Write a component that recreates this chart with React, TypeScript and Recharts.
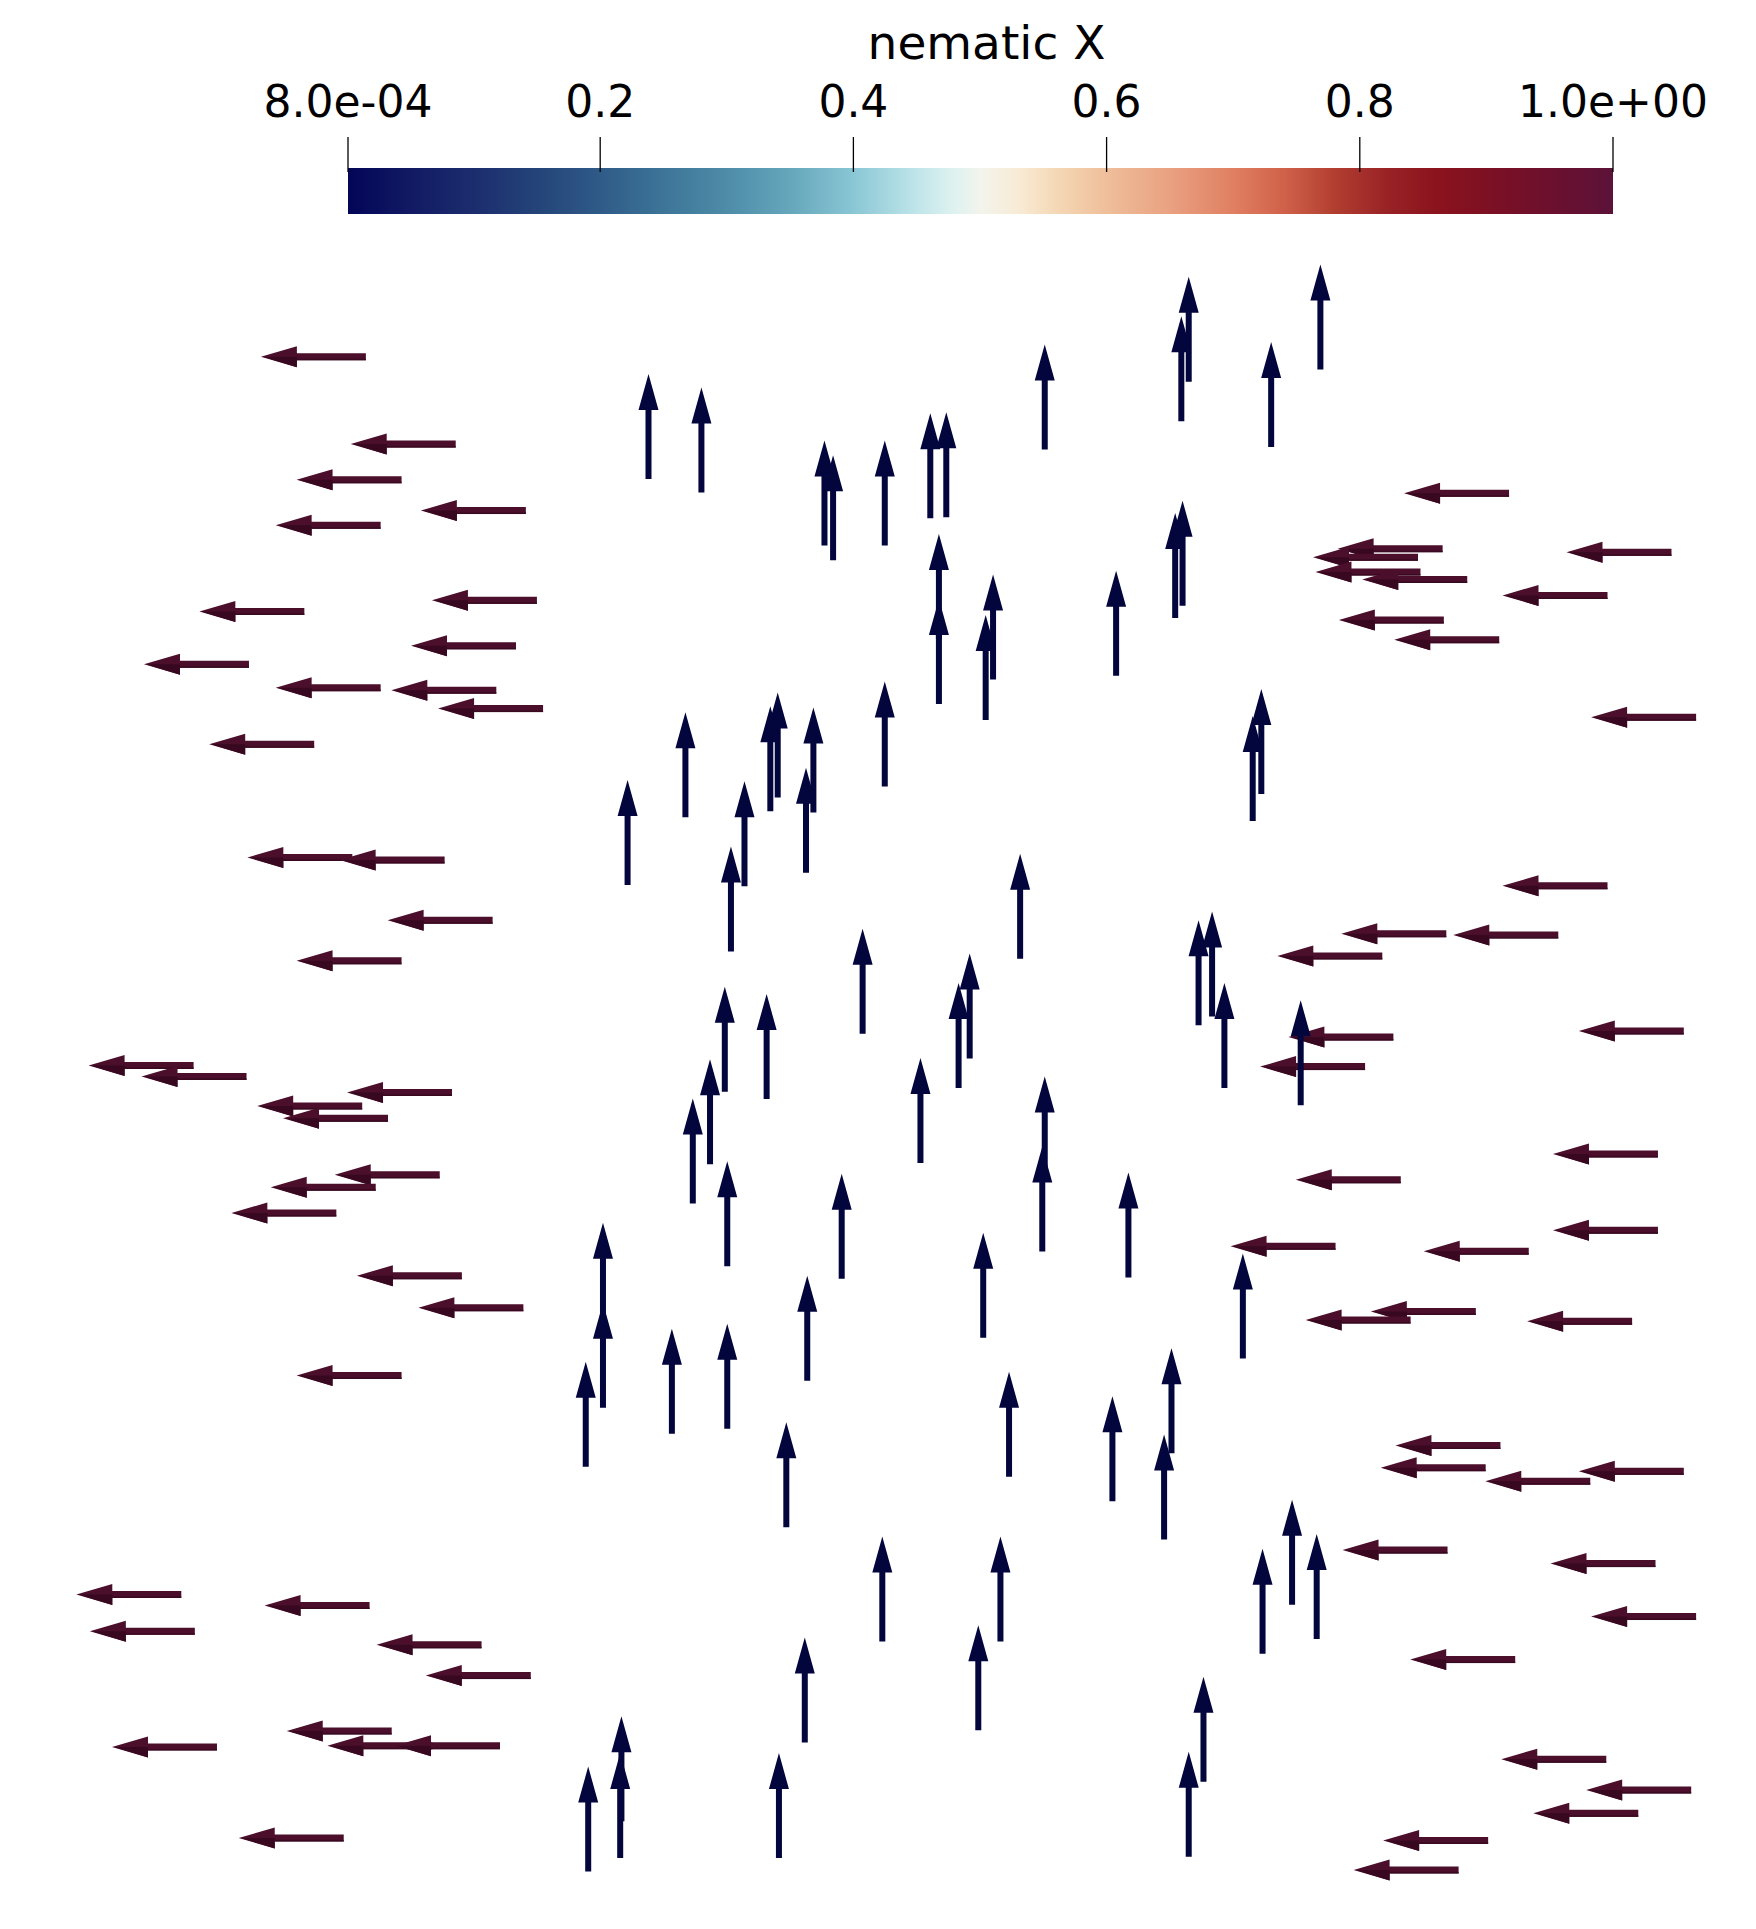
import React from 'react';
import { ScatterChart, Scatter, XAxis, YAxis, ComposedChart, ReferenceArea, Label } from 'recharts';

const W = 1756;
const H = 1929;

// arrow tips in a 1427 x 1568 view of the domain
const leftArrows: [number, number][] = [
  [212, 290], [285, 361], [241, 390], [342, 415], [224, 427], [162, 497], [351, 488], [334, 525],
  [117, 540], [224, 559], [318, 561], [356, 576], [170, 605], [201, 697], [276, 699], [315, 748],
  [241, 781], [72, 866], [115, 875], [282, 888], [209, 899], [230, 909], [272, 955], [220, 965],
  [188, 986], [290, 1037], [340, 1063], [241, 1118], [62, 1296], [215, 1305], [73, 1326], [306, 1337],
  [346, 1362], [233, 1407], [266, 1419], [321, 1419], [91, 1420], [194, 1494],
  [1141, 401], [1087, 446], [1067, 453], [1273, 449], [1069, 465], [1107, 471], [1221, 484], [1088, 504],
  [1133, 520], [1293, 583], [1221, 720], [1090, 759], [1181, 760], [1038, 777], [1283, 838], [1047, 843],
  [1024, 867], [1262, 938], [1053, 959], [1262, 1000], [1000, 1013], [1157, 1017], [1114, 1066], [1061, 1073],
  [1241, 1074], [1134, 1175], [1122, 1193], [1207, 1204], [1283, 1196], [1091, 1260], [1260, 1271], [1293, 1314],
  [1146, 1349], [1220, 1430], [1289, 1455], [1246, 1474], [1124, 1496], [1100, 1520],
];

const upArrows: [number, number][] = [
  [527, 304], [570, 315], [670, 358], [677, 370], [719, 358], [756, 336], [769, 335], [849, 280],
  [966, 225], [960, 257], [1033, 278], [1073, 215], [961, 407], [955, 417], [763, 434], [763, 487],
  [807, 467], [801, 500], [907, 464], [719, 554], [1025, 560], [1018, 582], [510, 634], [557, 579],
  [632, 563], [626, 574], [661, 575], [605, 635], [655, 624], [594, 688], [701, 755], [589, 802],
  [623, 808], [577, 861], [829, 694], [974, 748], [985, 741], [788, 775], [779, 799], [995, 799],
  [1057, 813], [748, 860], [849, 875], [563, 893], [591, 944], [684, 954], [490, 994], [490, 1059],
  [476, 1107], [546, 1080], [591, 1076], [656, 1037], [639, 1156], [847, 932], [917, 953], [799, 1002],
  [1010, 1019], [820, 1115], [904, 1135], [952, 1096], [946, 1166], [654, 1331], [505, 1395], [504, 1425],
  [478, 1436], [633, 1425], [717, 1249], [813, 1249], [795, 1321], [1050, 1219], [1026, 1259], [1070, 1247],
  [978, 1363], [966, 1424],
];

const cbTicks = [0.0008, 0.2, 0.4, 0.6, 0.8, 1.0];
const cbTickLabels = ['8.0e-04', '0.2', '0.4', '0.6', '0.8', '1.0e+00'];
const cbStops: [number, string][] = [
  [0, '#030557'], [0.05, '#111a63'], [0.1, '#1c2d6e'], [0.15, '#244479'], [0.2, '#2f5b88'],
  [0.25, '#3d7598'], [0.3, '#4e8ca8'], [0.35, '#66a7bc'], [0.4, '#8ac7d5'], [0.45, '#c0e5ea'],
  [0.48, '#dff2f0'], [0.5, '#f3f4ec'], [0.53, '#f8ebd5'], [0.56, '#f5d8b6'], [0.6, '#efbe9a'],
  [0.65, '#e9a181'], [0.7, '#e07f62'], [0.74, '#d0614a'], [0.78, '#b23e30'], [0.82, '#9a2326'],
  [0.86, '#8b131d'], [0.9, '#7d1023'], [0.95, '#6c102e'], [1, '#5c1238'],
];

const leftData = leftArrows.map(([x, y]) => ({ x, y }));
const upData = upArrows.map(([x, y]) => ({ x, y }));
const cbData = cbTicks.map((v) => ({ v, y: 0.5 }));

const FONT = '"DejaVu Sans", sans-serif';
const L = 105;
const HL = 36;

const LeftArrow = (p: any) => {
  const { cx, cy } = p;
  const hw = 10.5;
  const sw = 3.5;
  const pts = [
    [cx, cy], [cx + HL, cy - hw], [cx + HL, cy - sw], [cx + L, cy - sw],
    [cx + L, cy + sw], [cx + HL, cy + sw], [cx + HL, cy + hw],
  ].map((q) => q.join(',')).join(' ');
  return (
    <g>
      <polygon points={pts} fill="#4b0f2c" />
      <polygon points={`${cx + 2},${cy} ${cx + HL},${cy} ${cx + HL},${cy + hw}`} fill="#37081f" />
      <rect x={cx + HL} y={cy + sw - 1.5} width={L - HL} height={1.5} fill="#380920" />
    </g>
  );
};

const UpArrow = (p: any) => {
  const { cx, cy } = p;
  const hw = 10;
  const sw = 3;
  const pts = [
    [cx, cy], [cx + hw, cy + HL], [cx + sw, cy + HL], [cx + sw, cy + L],
    [cx - sw, cy + L], [cx - sw, cy + HL], [cx - hw, cy + HL],
  ].map((q) => q.join(',')).join(' ');
  return <polygon points={pts} fill="#03053d" />;
};

const CbTick = (p: any) => {
  const { x, y, payload } = p;
  const i = cbTicks.indexOf(payload.value);
  return (
    <g>
      <line x1={x} x2={x} y1={y} y2={y + 35} stroke="#000" strokeWidth={1.3} />
      <text x={x} y={y - 20} textAnchor="middle" fontSize={44} fontFamily={FONT} fill="#000">
        {cbTickLabels[i]}
      </text>
    </g>
  );
};

const App: React.FC = () => {
  return (
    <div style={{ position: 'absolute', left: 0, top: 0, width: W, height: H, background: '#fff' }}>
      <svg width={0} height={0} style={{ position: 'absolute' }}>
        <defs>
          <linearGradient id="cbGrad" x1="0" y1="0" x2="1" y2="0">
            {cbStops.map(([o, c]) => (
              <stop key={o} offset={o} stopColor={c} />
            ))}
          </linearGradient>
        </defs>
      </svg>
      <div style={{ position: 'absolute', left: 0, top: 0 }}>
        <ScatterChart width={W} height={H} margin={{ top: 0, right: 0, bottom: 0, left: 0 }}>
          <XAxis type="number" dataKey="x" domain={[0, 1427]} hide />
          <YAxis type="number" dataKey="y" domain={[0, 1568]} reversed hide />
          <Scatter data={leftData} shape={LeftArrow} isAnimationActive={false} />
          <Scatter data={upData} shape={UpArrow} isAnimationActive={false} />
        </ScatterChart>
      </div>
      <div style={{ position: 'absolute', left: 0, top: 0 }}>
        <ComposedChart
          width={W}
          height={230}
          data={cbData}
          margin={{ top: 0, right: 143, bottom: 16, left: 348 }}
        >
          <XAxis
            type="number"
            dataKey="v"
            orientation="top"
            height={168}
            domain={[0.0008, 1]}
            ticks={cbTicks}
            interval={0}
            axisLine={false}
            tickLine={false}
            tickSize={31}
            tickMargin={0}
            tick={CbTick}
          >
            <Label value="nematic X" position="insideTop" offset={26} fontSize={47} fontFamily={FONT} fill="#000" dx={6} />
          </XAxis>
          <YAxis type="number" dataKey="y" domain={[0, 1]} hide />
          <ReferenceArea
            x1={0.0008}
            x2={1}
            y1={0}
            y2={1}
            ifOverflow="visible"
            fill="url(#cbGrad)"
            fillOpacity={1}
            stroke="none"
          />
        </ComposedChart>
      </div>
    </div>
  );
};

export default App;
